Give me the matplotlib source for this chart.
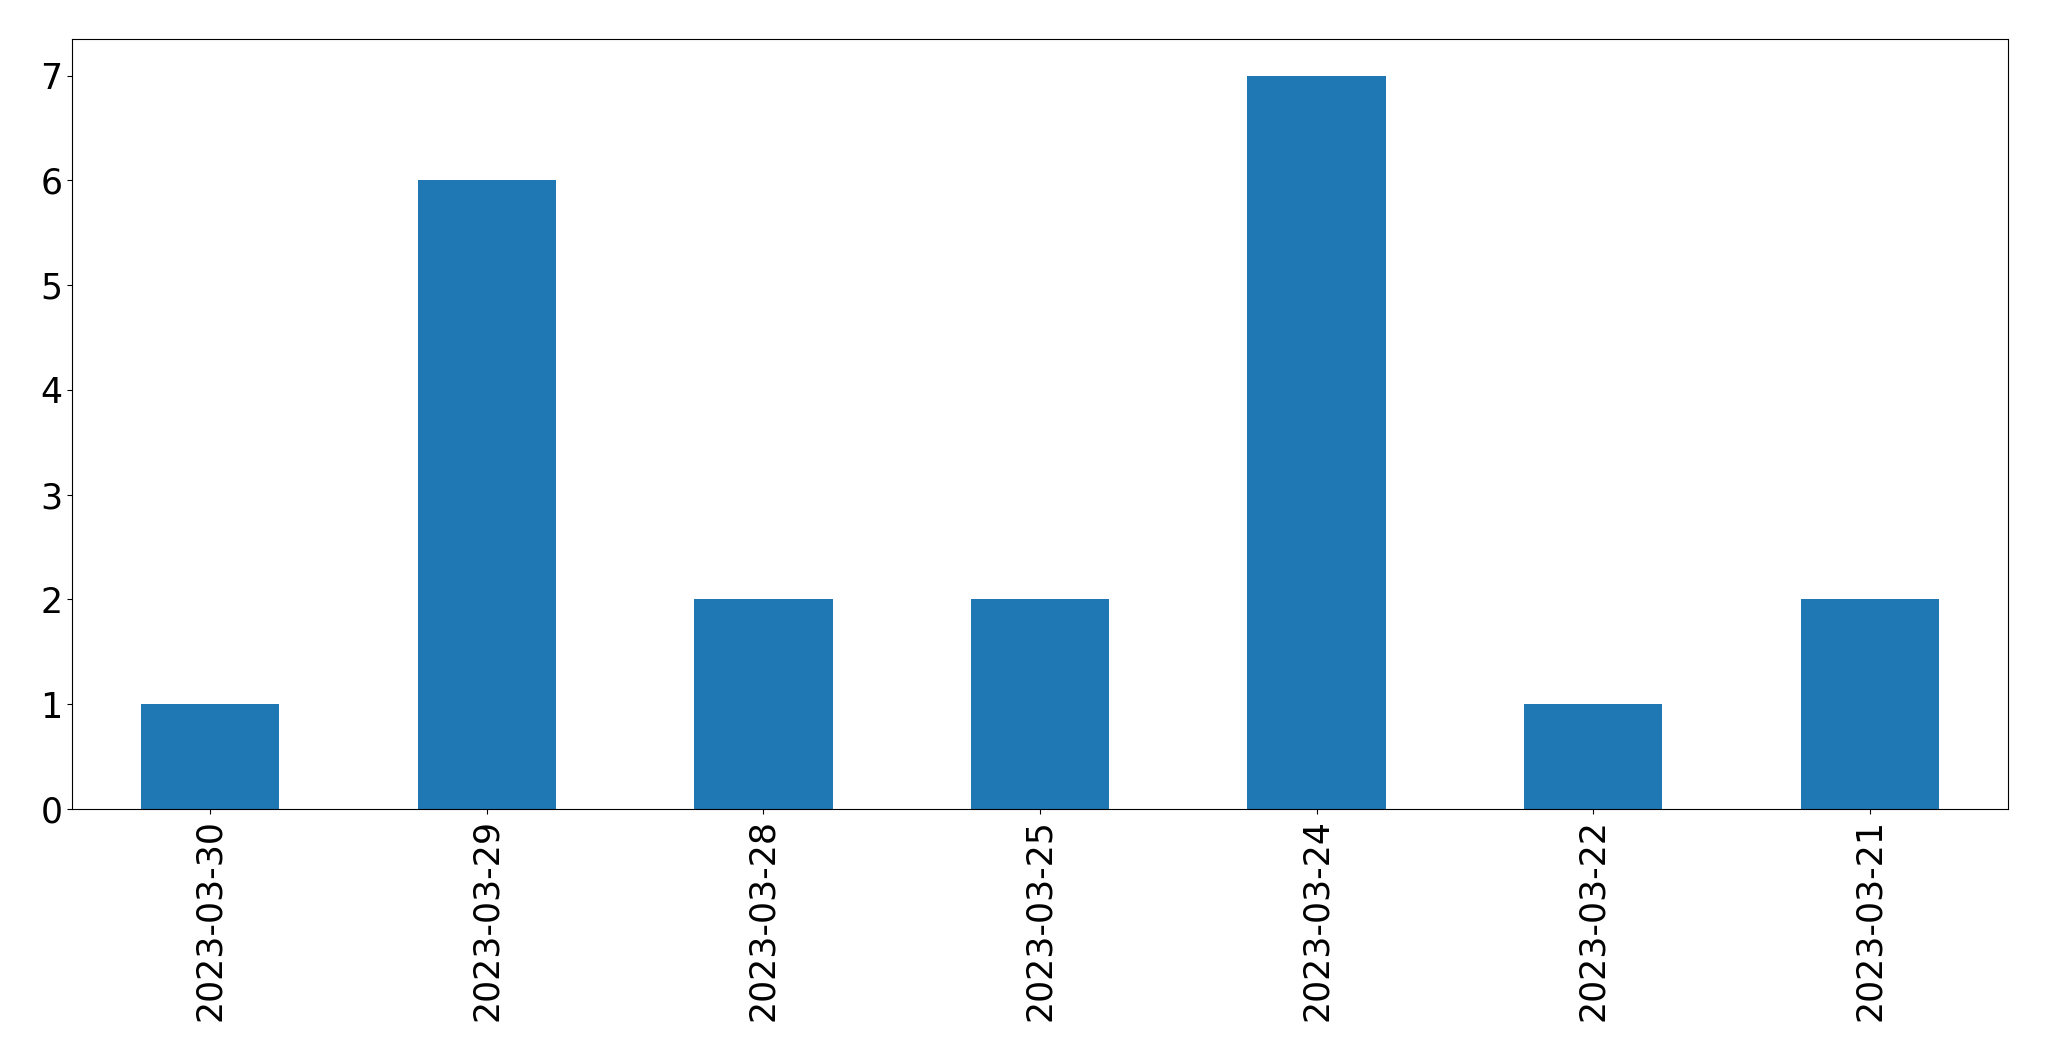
import matplotlib
matplotlib.use("Agg")
import matplotlib.pyplot as plt

dates = ["2023-03-30", "2023-03-29", "2023-03-28", "2023-03-25", "2023-03-24", "2023-03-22", "2023-03-21"]
counts = [1, 6, 2, 2, 7, 1, 2]

fig = plt.figure(figsize=(20.49, 10.61), dpi=100)
ax = fig.add_axes([72/2049, 1 - 809/1061, (2008-72)/2049, (809-39)/1061])
x = list(range(len(dates)))
ax.bar(x, counts, width=0.5, color="#1f77b4")
ax.set_xlim(-0.5, len(dates) - 0.5)
ax.set_ylim(0, 7.35)
ax.set_xticks(x)
ax.set_xticklabels(dates, rotation=90)
ax.tick_params(labelsize=25)
fig.savefig("out.png", dpi=100)
